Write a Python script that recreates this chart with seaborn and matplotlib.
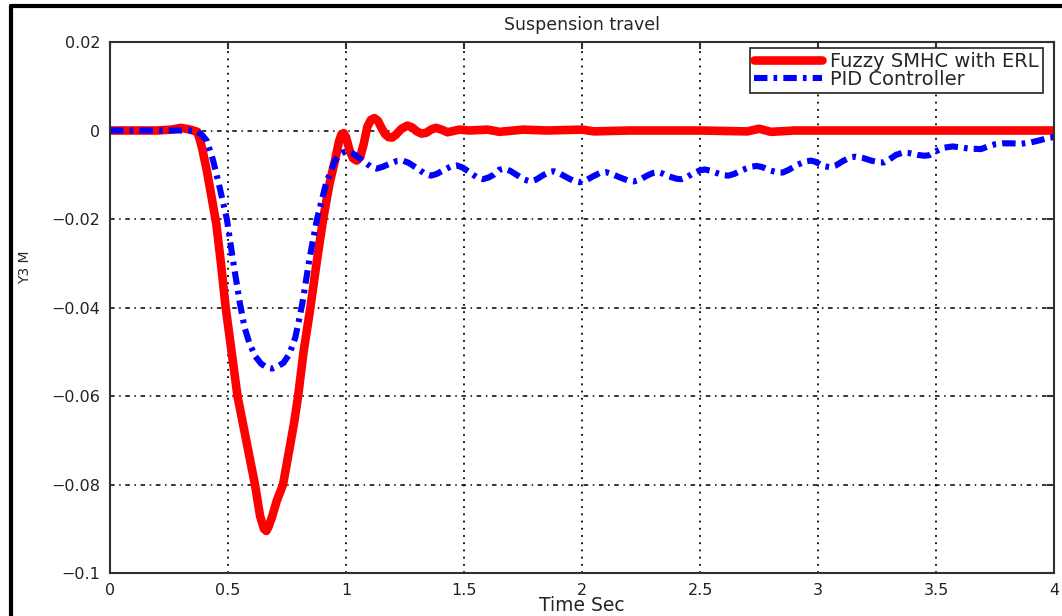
import matplotlib
matplotlib.use("Agg")
import matplotlib.pyplot as plt
import pandas as pd
import numpy as np
import seaborn as sns
from matplotlib.lines import Line2D

# Fuzzy SMHC with ERL (red)
fuzzy_t = [0.00, 0.10, 0.20, 0.26, 0.30, 0.34, 0.37, 0.38, 0.39, 0.41, 0.43, 0.45,
           0.47, 0.49, 0.515, 0.54, 0.577, 0.614, 0.636, 0.652, 0.662, 0.672, 0.686,
           0.707, 0.733, 0.76, 0.78, 0.797, 0.82, 0.847, 0.875, 0.903, 0.93, 0.953,
           0.97, 0.98, 0.99, 1.00, 1.015, 1.03, 1.045, 1.06, 1.075, 1.09, 1.105,
           1.12, 1.135, 1.15, 1.165, 1.18, 1.195, 1.21, 1.235, 1.26, 1.28, 1.30,
           1.32, 1.34, 1.36, 1.38, 1.405, 1.43, 1.455, 1.48, 1.52, 1.60, 1.65, 1.75,
           1.85, 2.00, 2.05, 2.20, 2.50, 2.70, 2.75, 2.80, 2.90, 3.50, 4.00]
fuzzy_y = [0.0, 0.0, 0.0, 0.0002, 0.0006, 0.0002, -0.0003, -0.002, -0.004, -0.009,
           -0.015, -0.021, -0.030, -0.040, -0.050, -0.060, -0.070, -0.080, -0.0872,
           -0.0900, -0.0905, -0.0895, -0.0874, -0.0836, -0.0800, -0.072, -0.066,
           -0.060, -0.050, -0.0407, -0.030, -0.020, -0.012, -0.0068, -0.0025,
           -0.0009, -0.0006, -0.0015, -0.0045, -0.0063, -0.0068, -0.0060, -0.0030,
           0.0008, 0.0024, 0.0028, 0.0022, 0.0006, -0.0008, -0.0015, -0.0016,
           -0.0010, 0.0004, 0.0011, 0.0007, -0.0002, -0.0007, -0.0005, 0.0002,
           0.0006, 0.0002, -0.0004, -0.0001, 0.0002, 0.0, 0.0002, -0.0003, 0.0002,
           0.0, 0.0002, -0.0002, 0.0, 0.0, -0.0002, 0.0004, -0.0003, 0.0, 0.0, 0.0]

# PID Controller (blue)
pid_t = [0.00, 0.30, 0.36, 0.39, 0.41, 0.437, 0.465, 0.495, 0.52, 0.55, 0.57, 0.59,
         0.615, 0.64, 0.665, 0.687, 0.71, 0.735, 0.76, 0.785, 0.80, 0.815, 0.845,
         0.877, 0.915, 0.953, 0.975, 0.99, 1.01, 1.035, 1.07, 1.105, 1.13, 1.155,
         1.185, 1.215, 1.24, 1.265, 1.30, 1.335, 1.36, 1.385, 1.415, 1.445, 1.47,
         1.495, 1.525, 1.555, 1.58, 1.605, 1.625, 1.648, 1.67, 1.695, 1.725, 1.755,
         1.78, 1.805, 1.835, 1.86, 1.88, 1.905, 1.935, 1.965, 1.99, 2.015, 2.045,
         2.075, 2.10, 2.125, 2.16, 2.195, 2.22, 2.245, 2.275, 2.30, 2.32, 2.345,
         2.37, 2.40, 2.42, 2.445, 2.47, 2.50, 2.52, 2.545, 2.57, 2.60, 2.62, 2.645,
         2.68, 2.715, 2.74, 2.765, 2.795, 2.83, 2.85, 2.875, 2.91, 2.945, 2.97,
         2.99, 3.02, 3.05, 3.075, 3.105, 3.135, 3.16, 3.19, 3.225, 3.26, 3.28,
         3.30, 3.33, 3.36, 3.385, 3.42, 3.45, 3.47, 3.495, 3.53, 3.57, 3.60, 3.64,
         3.69, 3.72, 3.75, 3.78, 3.82, 3.86, 3.90, 3.94, 3.98, 4.00]
pid_y = [0.0, 0.0, 0.0, -0.001, -0.0023, -0.0068, -0.013, -0.020, -0.029, -0.039,
         -0.0445, -0.048, -0.051, -0.0527, -0.0536, -0.0538, -0.0533, -0.0525,
         -0.0505, -0.0468, -0.043, -0.039, -0.029, -0.020, -0.012, -0.0068,
         -0.0054, -0.0049, -0.0048, -0.0054, -0.0068, -0.0082, -0.0086, -0.0082,
         -0.0075, -0.0069, -0.0068, -0.0073, -0.0085, -0.0098, -0.0102, -0.0098,
         -0.0089, -0.0081, -0.0079, -0.0084, -0.0095, -0.0106, -0.0110, -0.0106,
         -0.0100, -0.0089, -0.0086, -0.0091, -0.0101, -0.0111, -0.0115, -0.0111,
         -0.0101, -0.0094, -0.0092, -0.0097, -0.0106, -0.0114, -0.0117, -0.0113,
         -0.0104, -0.0096, -0.0094, -0.0098, -0.0106, -0.0113, -0.0115, -0.0111,
         -0.0102, -0.0096, -0.0094, -0.0098, -0.0104, -0.0109, -0.0110, -0.0105,
         -0.0097, -0.0090, -0.0088, -0.0091, -0.0096, -0.0101, -0.0102, -0.0098,
         -0.0089, -0.0082, -0.0080, -0.0083, -0.0090, -0.0095, -0.0095, -0.0089,
         -0.0078, -0.0070, -0.0068, -0.0071, -0.0080, -0.0083, -0.0079, -0.0069,
         -0.0061, -0.0059, -0.0062, -0.0068, -0.0072, -0.0072, -0.0066, -0.0055,
         -0.0050, -0.0051, -0.0055, -0.0057, -0.0056, -0.0048, -0.0039, -0.0036,
         -0.0038, -0.0041, -0.0042, -0.0036, -0.0031, -0.0029, -0.0029, -0.0030,
         -0.0027, -0.0022, -0.0016, -0.0015]

x_ticks = [0, 0.5, 1, 1.5, 2, 2.5, 3, 3.5, 4]
y_ticks = [-0.1, -0.08, -0.06, -0.04, -0.02, 0, 0.02]
y_tick_labels = ["\u22120.1", "\u22120.08", "\u22120.06", "\u22120.04", "\u22120.02", "0", "0.02"]

df_fuzzy = pd.DataFrame({"t": fuzzy_t, "y": fuzzy_y})
df_pid = pd.DataFrame({"t": pid_t, "y": pid_y})

sns.set_style("white")
plt.rcParams["font.family"] = ["DejaVu Sans"]

fig = plt.figure(figsize=(10.62, 6.16), dpi=100)
ax = fig.add_axes([0.1036, 0.0698, 0.889, 0.862])

sns.lineplot(data=df_fuzzy, x="t", y="y", ax=ax, color="#ff0000", linewidth=6.2,
             sort=False, estimator=None, label="Fuzzy SMHC with ERL")
sns.lineplot(data=df_pid, x="t", y="y", ax=ax, color="#0000ff", linewidth=4.4,
             sort=False, estimator=None, label="PID Controller",
             linestyle=(0, (2.2, 1.0, 0.6, 1.0)))

ax.set_xlim(0, 4)
ax.set_ylim(-0.1, 0.02)
ax.set_xticks(x_ticks)
ax.set_xticklabels([("%g" % v) for v in x_ticks])
ax.set_yticks(y_ticks)
ax.set_yticklabels(y_tick_labels)

ax.xaxis.grid(True, color="black", linestyle=(0, (1, 3)), linewidth=1.3)
ax.yaxis.grid(True, color="black", linestyle=(0, (3, 3, 1, 3)), linewidth=1.1)
ax.set_axisbelow(True)

for s in ax.spines.values():
    s.set_visible(True)
    s.set_color("#303030")
    s.set_linewidth(1.5)
ax.tick_params(direction="in", top=True, right=True, length=5, width=1.5,
               colors="#303030", labelcolor="#222222", labelsize=11.5, pad=7)

ax.set_title("Suspension travel", fontsize=12.5, pad=9)
ax.set_xlabel("Time Sec", fontsize=13.5)
ax.set_ylabel("Y3 M", fontsize=10)
ax.xaxis.set_label_coords(0.5, -0.043)
ax.yaxis.set_label_coords(-0.083, 0.576)

leg = ax.legend(loc="upper right", bbox_to_anchor=(0.988, 0.9887), borderaxespad=0,
                fancybox=False, edgecolor="#222222", framealpha=1, fontsize=14,
                handlelength=3.5, handletextpad=0.4, borderpad=0.22, labelspacing=-0.08)
leg.get_frame().set_linewidth(1.2)

# outer frame (left and top edges)
fig.add_artist(Line2D([0.0104, 0.0104], [0, 0.99], transform=fig.transFigure,
                      color="black", linewidth=3))
fig.add_artist(Line2D([0.0104, 1.0], [0.99, 0.99], transform=fig.transFigure,
                      color="black", linewidth=3))

plt.savefig("out.png", dpi=100)
